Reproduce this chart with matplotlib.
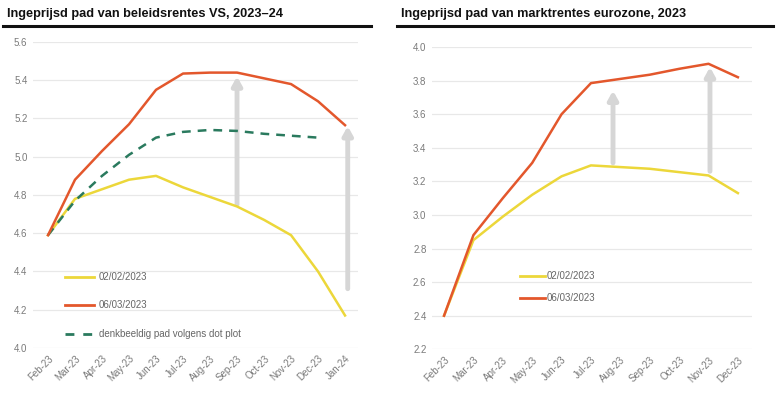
import matplotlib
matplotlib.use("Agg")
import matplotlib.pyplot as plt
from matplotlib.lines import Line2D

# ---- data: left chart (US policy rates) ----
months_us = ["Feb-23", "Mar-23", "Apr-23", "May-23", "Jun-23", "Jul-23",
             "Aug-23", "Sep-23", "Oct-23", "Nov-23", "Dec-23", "Jan-24"]
us_0202 = [4.59, 4.78, 4.83, 4.88, 4.90, 4.84, 4.79, 4.74, 4.67, 4.59, 4.40, 4.17]
us_0603 = [4.59, 4.88, 5.03, 5.17, 5.35, 5.435, 5.44, 5.44, 5.41, 5.38, 5.29, 5.165]
us_dot = [4.59, 4.77, 4.90, 5.01, 5.10, 5.13, 5.14, 5.135, 5.12, 5.11, 5.10]
us_arrow_x = [7.0, 11.1]
us_arrow_from = [4.75, 4.31]
us_arrow_to = [5.42, 5.16]
us_yticks = [4.0, 4.2, 4.4, 4.6, 4.8, 5.0, 5.2, 5.4, 5.6]

# ---- data: right chart (eurozone market rates) ----
months_ez = ["Feb-23", "Mar-23", "Apr-23", "May-23", "Jun-23", "Jul-23",
             "Aug-23", "Sep-23", "Oct-23", "Nov-23", "Dec-23"]
ez_0202 = [2.40, 2.85, 2.99, 3.12, 3.23, 3.295, 3.285, 3.275, 3.255, 3.235, 3.13]
ez_0603 = [2.40, 2.88, 3.10, 3.31, 3.60, 3.785, 3.81, 3.835, 3.87, 3.90, 3.82]
ez_arrow_x = [5.75, 9.05]
ez_arrow_from = [3.31, 3.26]
ez_arrow_to = [3.74, 3.88]
ez_yticks = [2.2, 2.4, 2.6, 2.8, 3.0, 3.2, 3.4, 3.6, 3.8, 4.0]

label_0202 = "02/02/2023"
label_0603 = "06/03/2023"
label_dot = "denkbeeldig pad volgens dot plot"
title_us = "Ingeprijsd pad van beleidsrentes VS, 2023\u201324"
title_ez = "Ingeprijsd pad van marktrentes eurozone, 2023"

YELLOW = "#ecd73a"
RED = "#e3572c"
GREEN = "#2a7a5e"
ARROW = "#d6d6d6"
GRID = "#e8e8e8"
TICK = "#7a7a7a"

plt.rcParams['font.family'] = ['Liberation Sans', 'DejaVu Sans']

fig = plt.figure(figsize=(7.8, 3.96), dpi=100)
W, H = 780, 396


def px_axes(x0, x1, ytop, ybot):
    return fig.add_axes([x0 / W, 1 - ybot / H, (x1 - x0) / W, (ybot - ytop) / H])


def style(ax, labels, yticks, xlim):
    ax.set_xlim(*xlim)
    ax.set_ylim(yticks[0], yticks[-1])
    ax.set_yticks(yticks)
    ax.set_yticklabels([f"{t:.1f}" for t in yticks])
    ax.set_xticks(range(len(labels)))
    ax.set_xticklabels(labels, rotation=45, ha="right", rotation_mode="anchor")
    ax.tick_params(axis="both", length=0, labelsize=7, colors=TICK, pad=4)
    for s in ax.spines.values():
        s.set_visible(False)
    ax.grid(axis="y", color=GRID, lw=0.9)
    ax.set_axisbelow(True)


def arrows(ax, xs, y0s, y1s):
    for x, a, b in zip(xs, y0s, y1s):
        ax.annotate("", xy=(x, b), xytext=(x, a),
                    arrowprops=dict(arrowstyle="-|>,head_length=0.5,head_width=0.28",
                                    color=ARROW, lw=3.5, shrinkA=0, shrinkB=0,
                                    mutation_scale=10), zorder=1)


# ---- left ----
ax1 = px_axes(33, 358, 42, 348)
style(ax1, months_us, us_yticks, (-0.556, 11.48))
arrows(ax1, us_arrow_x, us_arrow_from, us_arrow_to)
ax1.plot(range(len(us_0202)), us_0202, color=YELLOW, lw=1.8, zorder=3)
ax1.plot(range(len(us_0603)), us_0603, color=RED, lw=1.8, zorder=4)
ax1.plot(range(len(us_dot)), us_dot, color=GREEN, lw=1.8, ls=(0, (3.5, 2.8)), zorder=3)
h1 = [Line2D([], [], color=YELLOW, lw=2), Line2D([], [], color=RED, lw=2),
      Line2D([], [], color=GREEN, lw=2, ls=(0, (3.2, 3.2)))]
leg1 = ax1.legend(h1, [label_0202, label_0603, label_dot], loc="upper left",
                  bbox_to_anchor=((65 - 33) / 325, (348 - 272) / 306), frameon=False,
                  fontsize=7, handlelength=3.0, handletextpad=0.5, labelspacing=1.9,
                  borderaxespad=0, borderpad=0)
for t in leg1.get_texts():
    t.set_color("#666666")

# ---- right ----
ax2 = px_axes(432, 752, 47, 349.3)
style(ax2, months_ez, ez_yticks, (-0.41, 10.48))
arrows(ax2, ez_arrow_x, ez_arrow_from, ez_arrow_to)
ax2.plot(range(len(ez_0202)), ez_0202, color=YELLOW, lw=1.8, zorder=3)
ax2.plot(range(len(ez_0603)), ez_0603, color=RED, lw=1.8, zorder=4)
h2 = [Line2D([], [], color=YELLOW, lw=2), Line2D([], [], color=RED, lw=2)]
leg2 = ax2.legend(h2, [label_0202, label_0603], loc="upper left",
                  bbox_to_anchor=((520 - 432) / 320, (349.3 - 271) / 302.3), frameon=False,
                  fontsize=7, handlelength=2.6, handletextpad=0.1, labelspacing=1.25,
                  borderaxespad=0, borderpad=0)
for t in leg2.get_texts():
    t.set_color("#666666")

# ---- titles with underline rules ----
for x0, x1, txt in [(3, 371, title_us), (397, 773, title_ez)]:
    t = fig.text((x0 + 4) / W, 1 - 14 / H, txt, fontsize=9.2, fontweight="bold",
                 color="#111111", va="center", ha="left")
    fig.add_artist(Line2D([x0 / W, x1 / W], [1 - 26 / H, 1 - 26 / H],
                          color="#111111", lw=2.2))

fig.savefig("out.png", dpi=100)
